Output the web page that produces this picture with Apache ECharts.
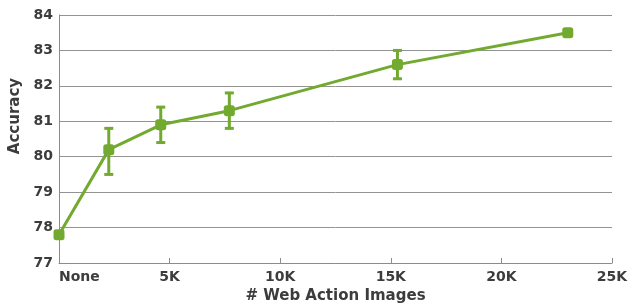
<!DOCTYPE html>
<html>
<head>
<meta charset="utf-8">
<script src="https://cdn.jsdelivr.net/npm/echarts@6/dist/echarts.min.js"></script>
<style>html,body{margin:0;padding:0;background:#fff}#c{width:637px;height:304px}</style>
</head>
<body>
<div id="c"></div>
<script>
var xValues = [0, 2250, 4600, 7700, 15300, 23000];
var accuracy = [77.8, 80.2, 80.9, 81.3, 82.6, 83.5];
var errLow = [77.8, 79.5, 80.4, 80.8, 82.2, 83.45];
var errHigh = [77.8, 80.8, 81.4, 81.8, 83.0, 83.55];
var xTickLabels = {0: 'None', 5000: '5K', 10000: '10K', 15000: '15K', 20000: '20K', 25000: '25K'};

var green = '#72aa30';
var textColor = '#3c3c3c';
var font = 'DejaVu Sans';
var chart = echarts.init(document.getElementById('c'));
var lineData = xValues.map(function (x, i) { return [x, accuracy[i]]; });
var errData = xValues.map(function (x, i) { return [x, errLow[i], errHigh[i]]; });

chart.setOption({
  animation: false,
  grid: {left: 59, right: 25, top: 15, bottom: 41, containLabel: false, outerBoundsMode: 'none'},
  xAxis: {
    type: 'value', min: 0, max: 25000, interval: 5000,
    name: '# Web Action Images', nameLocation: 'middle', nameGap: 21,
    nameTextStyle: {fontFamily: font, fontWeight: 'bold', fontSize: 15, color: textColor},
    axisLine: {lineStyle: {color: '#8c8c8c', width: 1}},
    axisTick: {show: true, inside: true, length: 5, lineStyle: {color: '#8c8c8c'}},
    splitLine: {show: false},
    axisLabel: {
      formatter: function (v) { return xTickLabels[v] !== undefined ? xTickLabels[v] : ''; },
      alignMinLabel: 'left',
      fontFamily: font, fontWeight: 'bold', fontSize: 14, color: textColor, margin: 7
    }
  },
  yAxis: {
    type: 'value', min: 77, max: 84, interval: 1,
    name: 'Accuracy', nameLocation: 'middle', nameGap: 36, nameRotate: 90,
    nameTextStyle: {fontFamily: font, fontWeight: 'bold', fontSize: 15, color: textColor, padding: [0, 0, 0, 46]},
    axisLine: {show: true, lineStyle: {color: '#8c8c8c', width: 1}},
    axisTick: {show: false},
    splitLine: {lineStyle: {color: '#939393', width: 1}},
    axisLabel: {fontFamily: font, fontWeight: 'bold', fontSize: 14, color: textColor, margin: 6}
  },
  series: [
    {
      type: 'line', data: lineData, symbol: 'roundRect', symbolSize: 11,
      lineStyle: {color: green, width: 3}, itemStyle: {color: green}, z: 3
    },
    {
      type: 'custom', data: errData, z: 4,
      renderItem: function (params, api) {
        var x = api.value(0);
        var lo = api.coord([x, api.value(1)]);
        var hi = api.coord([x, api.value(2)]);
        var hw = 4.5;
        var st = {stroke: green, lineWidth: 3};
        return {
          type: 'group',
          children: [
            {type: 'line', shape: {x1: lo[0], y1: lo[1], x2: hi[0], y2: hi[1]}, style: st},
            {type: 'line', shape: {x1: lo[0] - hw, y1: lo[1], x2: lo[0] + hw, y2: lo[1]}, style: st},
            {type: 'line', shape: {x1: hi[0] - hw, y1: hi[1], x2: hi[0] + hw, y2: hi[1]}, style: st}
          ]
        };
      }
    }
  ]
});
</script>
</body>
</html>
